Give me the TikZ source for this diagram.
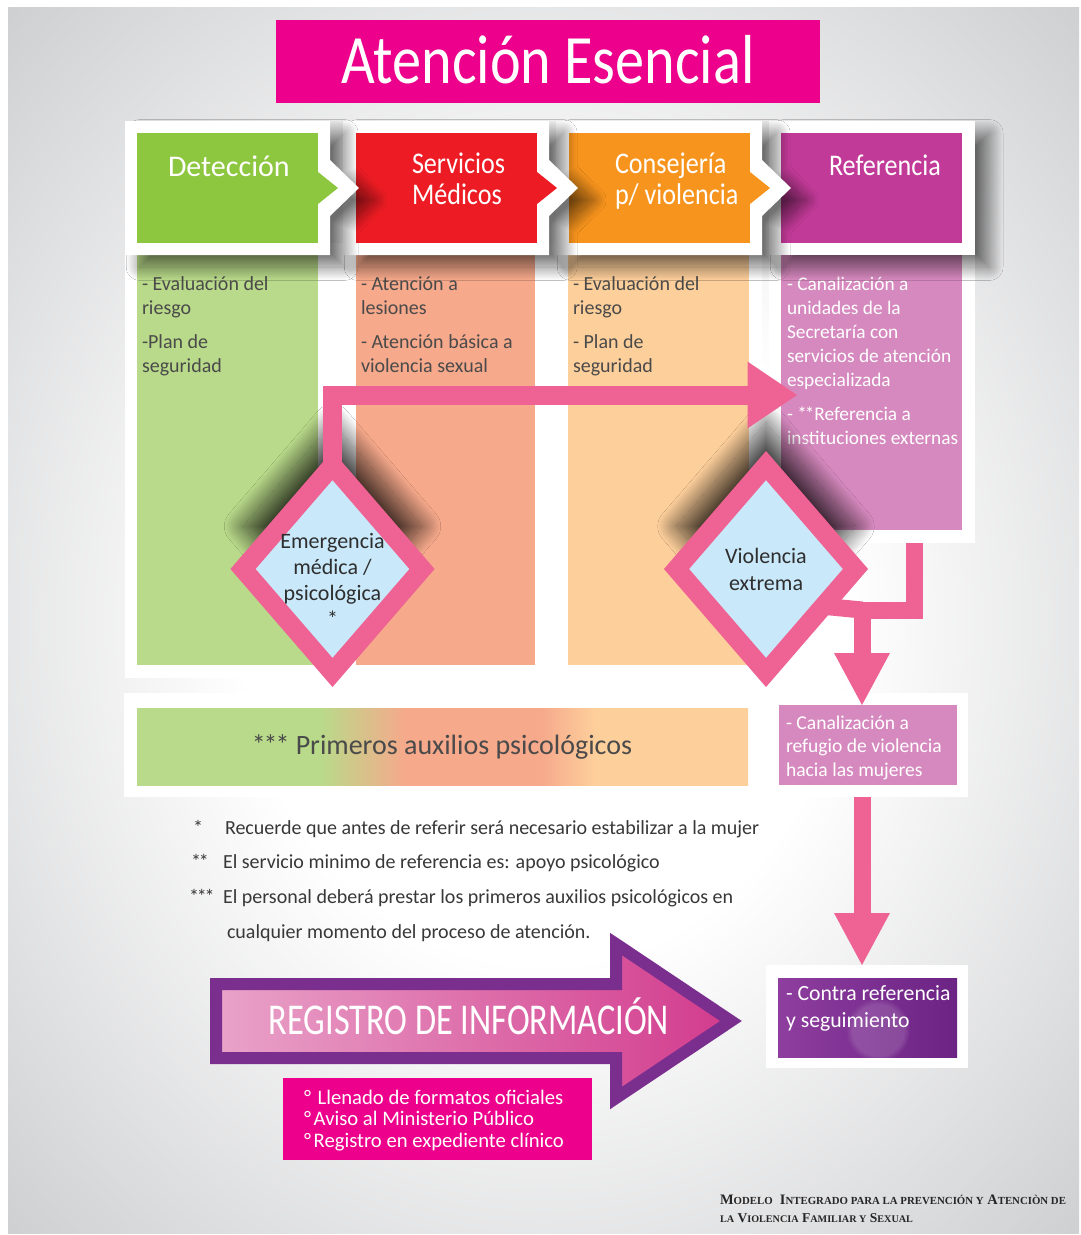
\documentclass[tikz,border=0pt]{standalone}
\usepackage{graphicx}
\usepackage{fontspec}
\setmainfont{Carlito}
\newfontfamily\ttlf{Carlito}[FakeStretch=0.84]
\newfontfamily\condf{Carlito}[FakeStretch=0.78]
\newfontfamily\hdf{Carlito}[FakeStretch=0.87]
\newfontfamily\serf{Liberation Serif}
\usetikzlibrary{shapes.geometric,arrows.meta,shadows.blur,calc,fadings}
\definecolor{titmag}{HTML}{EC008C}
\definecolor{hgrn}{HTML}{8DC63F}
\definecolor{hred}{HTML}{ED1C24}
\definecolor{horg}{HTML}{F7941D}
\definecolor{hmag}{HTML}{C23A98}
\definecolor{lgrn}{HTML}{B9DA8A}
\definecolor{salm}{HTML}{F6A98B}
\definecolor{pch}{HTML}{FDCF9B}
\definecolor{lpnk}{HTML}{D689BE}
\definecolor{dblue}{HTML}{C9E8F9}
\definecolor{cpink}{HTML}{EE6393}
\definecolor{txtd}{HTML}{4A4A4A}
\definecolor{purp}{HTML}{7A2E8E}
\definecolor{purl}{HTML}{8E3E9F}
\definecolor{purd}{HTML}{6B2384}
\definecolor{arrl}{HTML}{E9A3C9}
\definecolor{arrr}{HTML}{D23B8D}
\definecolor{bggray}{HTML}{CDCED0}
\pgfdeclarehorizontalshading{primgrad}{100bp}{color(0bp)=(lgrn); color(40bp)=(lgrn); color(47bp)=(salm); color(58bp)=(salm); color(62.5bp)=(pch); color(100bp)=(pch)}
\pgfdeclareradialshading{bgsh}{\pgfpoint{0bp}{0bp}}{color(0bp)=(white); color(14bp)=(white); color(36bp)=(bggray); color(50bp)=(bggray)}
\newcommand\smc[1]{{\fontsize{7.5}{9}\selectfont #1}}
\newcommand\astk{*\kern-1.6pt}
\begin{document}
\begin{tikzpicture}[x=0.75pt,y=-0.75pt,
  every node/.style={inner sep=0pt, outer sep=0pt},
  frame/.style={rectangle, fill=white},
  hbox/.style={rectangle, minimum width=135.75pt, minimum height=82.5pt},
  htxt/.style={anchor=base west, align=left, text=white, font=\hdf\fontsize{22.5}{23.25}\selectfont},
  ctxt/.style={anchor=base west, align=left, text=txtd, font=\fontsize{15}{18}\selectfont},
  ftxt/.style={anchor=base west, text=black!78, font=\fontsize{15}{18}\selectfont},
  hshadow/.style={blur shadow={shadow xshift=11pt, shadow yshift=-9pt, shadow blur radius=10pt, shadow blur steps=40, shadow opacity=55}},
  dia/.style={diamond, draw=cpink, fill=dblue, line width=14.25pt, minimum width=134.25pt, minimum height=155.25pt,
    blur shadow={shadow xshift=0pt, shadow yshift=32pt, shadow blur radius=14pt, shadow blur steps=40, shadow opacity=70}},
  dtxt/.style={anchor=base, align=center, text=black!82, font=\fontsize{16.5}{19.5}\selectfont},
  conna/.style={draw=cpink, line width=14.25pt, -{Triangle[width=50pt,length=37pt,line width=0pt]}},
  connb/.style={draw=cpink, line width=12.75pt, -{Triangle[width=42pt,length=39pt,line width=0pt]}},
  plink/.style={draw=cpink, line width=12.75pt}]
% background
\fill[white] (0,0) rectangle (1081,1235);
\shade[shading=bgsh] (8,7) rectangle (1079,1233);
\useasboundingbox (0,0) rectangle (1081,1235);
% title
\node[fill=titmag, minimum width=408pt, minimum height=62.25pt] (tbox) at (548,61.5) {};
\node[anchor=base, text=white, font=\ttlf\fontsize{52}{52}\selectfont] (title) at (548,83) {Atención Esencial};
% column frames and columns
\node[frame, minimum width=477.75pt, minimum height=326.25pt] (cf1) at (443.5,460.5) {};
\node[frame, minimum width=154.5pt, minimum height=225pt] (c4f) at (872,393) {};
\node[fill=lgrn, minimum width=135.75pt, minimum height=307.5pt] (c1) at (227.5,460) {};
\node[fill=salm, minimum width=134.25pt, minimum height=307.5pt] (c2) at (445.5,460) {};
\node[fill=pch, minimum width=135.75pt, minimum height=307.5pt] (c3) at (658.5,460) {};
\node[fill=lpnk, minimum width=135.75pt, minimum height=206.25pt] (c4) at (871.5,392.5) {};
\node[ctxt] (c1t) at (142,372) {- Evaluación del\\riesgo\\[7.5pt]-Plan de\\seguridad};
\node[ctxt] (c2t) at (361,372) {- Atención a\\lesiones\\[7.5pt]- Atención básica a\\violencia sexual};
\node[ctxt] (c3t) at (573,372) {- Evaluación del\\riesgo\\[7.5pt]- Plan de\\seguridad};
\node[ctxt, text=white, font=\fontsize{14.5}{18}\selectfont] (c4t) at (787,444) {- Canalización a\\unidades de la\\Secretaría con\\servicios de atención\\especializada\\[7.5pt]- \astk*Referencia a\\instituciones externas};
% headers, right to left
\path[fill=white, hshadow] (769,121) rectangle (975,255);
\node[hbox, fill=hmag] (h4) at (871.5,188) {};
\node[htxt] (h4t) at (829,175) {Referencia};
\path[fill=white, hshadow] (556,121) -- (762,121) -- (762,160) -- (791,188) -- (762,216) -- (762,255) -- (556,255) -- cycle;
\node[hbox, fill=horg] (h3) at (659,188) {};
\fill[horg] (750,172) -- (770,188) -- (750,204) -- cycle;
\node[htxt] (h3t) at (615,204) {Consejería\\p/ violencia};
\path[fill=white, hshadow] (343,121) -- (549,121) -- (549,160) -- (578,188) -- (549,216) -- (549,255) -- (343,255) -- cycle;
\node[hbox, fill=hred] (h2) at (446.5,188) {};
\fill[hred] (537,172) -- (557,188) -- (537,204) -- cycle;
\node[htxt] (h2t) at (412,204) {Servicios\\Médicos};
\path[fill=white, hshadow] (125,121) -- (330,121) -- (330,160) -- (359,188) -- (330,216) -- (330,255) -- (125,255) -- cycle;
\node[hbox, fill=hgrn] (h1) at (227.5,188) {};
\fill[hgrn] (318,172) -- (338,188) -- (318,204) -- cycle;
\node[htxt, font=\fontsize{22.5}{23.25}\selectfont] (h1t) at (168,176) {Detección};
% bottom row
\node[frame, minimum width=478.5pt, minimum height=78pt] (pf) at (443,745) {};
\node[shade, shading=primgrad, minimum width=458.25pt, minimum height=57.75pt] (pbar) at (442.5,746.5) {};
\node[anchor=base, text=txtd, font=\fontsize{21}{21}\selectfont] (pt) at (442,754) {\astk\astk* Primeros auxilios psicológicos};
\node[frame, minimum width=150pt, minimum height=78pt] (reff) at (868,745) {};
\node[fill=lpnk, minimum width=133.5pt, minimum height=60pt] (ref) at (868,745) {};
\node[anchor=base west, align=left, text=white, font=\fontsize{14.7}{17.6}\selectfont] (reft) at (786,776) {- Canalización a\\refugio de violencia\\hacia las mujeres};
% diamonds
\node[dia] (d1) at (332.5,569) {};
\node[dtxt] (d1t) at (332.5,626) {Emergencia\\médica /\\psicológica\\*};
\node[dia] (d2) at (766,569) {};
\node[dtxt, font=\fontsize{16.5}{20.25}\selectfont] (d2t) at (766,590) {Violencia\\extrema};
% connectors
\coordinate (t1) at (797,395);
\draw[conna] (d1.north) |- (t1);
\coordinate (j1) at (914,610);
\coordinate (j2) at (862,610);
\draw[connb] (c4f.south -| j1) -- (j1) -- (j2) -- (ref.north -| j2);
\coordinate (d2e) at ($(d2.east)!0.36!(d2.south)$);
\draw[plink] (d2e) -- (j2);
% contra referencia
\node[frame, minimum width=151.5pt, minimum height=77.25pt] (crf) at (867,1016.5) {};
\node[left color=purl, right color=purd, minimum width=134.25pt, minimum height=59.25pt] (cr) at (867.5,1017.5) {};
\fill[white, path fading=circle with fuzzy edge 20 percent, fill opacity=0.15] (878,1030) circle (32);
\node[anchor=base west, align=left, text=white, font=\fontsize{16.3}{20.25}\selectfont] (crt) at (786,1027) {- Contra referencia\\y seguimiento};
\draw[connb] (reff.south -| j2) -- (crf.north -| j2);
% footnotes
\node[ftxt] (n1m) at (193,834) {*};
\node[ftxt] (n1) at (225,834) {Recuerde que antes de referir será necesario estabilizar a la mujer};
\node[ftxt] (n2m) at (191,868) {\astk*};
\node[ftxt] (n2) at (223,868) {El servicio minimo de referencia es: apoyo psicológico};
\node[ftxt] (n3m) at (189,903) {\astk\astk*};
\node[ftxt] (n3) at (223,903) {El personal deberá prestar los primeros auxilios psicológicos en};
\node[ftxt] (n4) at (227,938) {cualquier momento del proceso de atención.};
% registro arrow
\path[draw=purp, line width=9pt, left color=arrl, right color=arrr] (216,984) -- (616,984) -- (616,944) -- (731,1021) -- (616,1098) -- (616,1058) -- (216,1058) -- cycle;
\node[anchor=base, text=white, font=\condf\fontsize{33}{33}\selectfont] (reg) at (469,1034) {REGISTRO DE INFORMACIÓN};
\node[fill=titmag, minimum width=231.75pt, minimum height=61.5pt] (mb) at (437.5,1119) {};
\node[anchor=base west, align=left, text=white, font=\fontsize{15.5}{16.1}\selectfont] (mbt) at (304,1147) {°\hspace{5pt}Llenado de formatos oficiales\\°\hspace{2pt}Aviso al Ministerio Público\\°\hspace{2pt}Registro en expediente clínico};
% footer
\node[anchor=base west, text=black!85, font=\serf\bfseries] (ft1) at (720,1204) {\resizebox{259.5pt}{!}{M\smc{ODELO}\ \ I\smc{NTEGRADO PARA LA PREVENCIÓN Y} A\smc{TENCIÒN DE}}};
\node[anchor=base west, text=black!85, font=\serf\bfseries] (ft2) at (720,1222) {\resizebox{144.75pt}{!}{\smc{LA} V\smc{IOLENCIA} F\smc{AMILIAR Y} S\smc{EXUAL}}};
\end{tikzpicture}
\end{document}
